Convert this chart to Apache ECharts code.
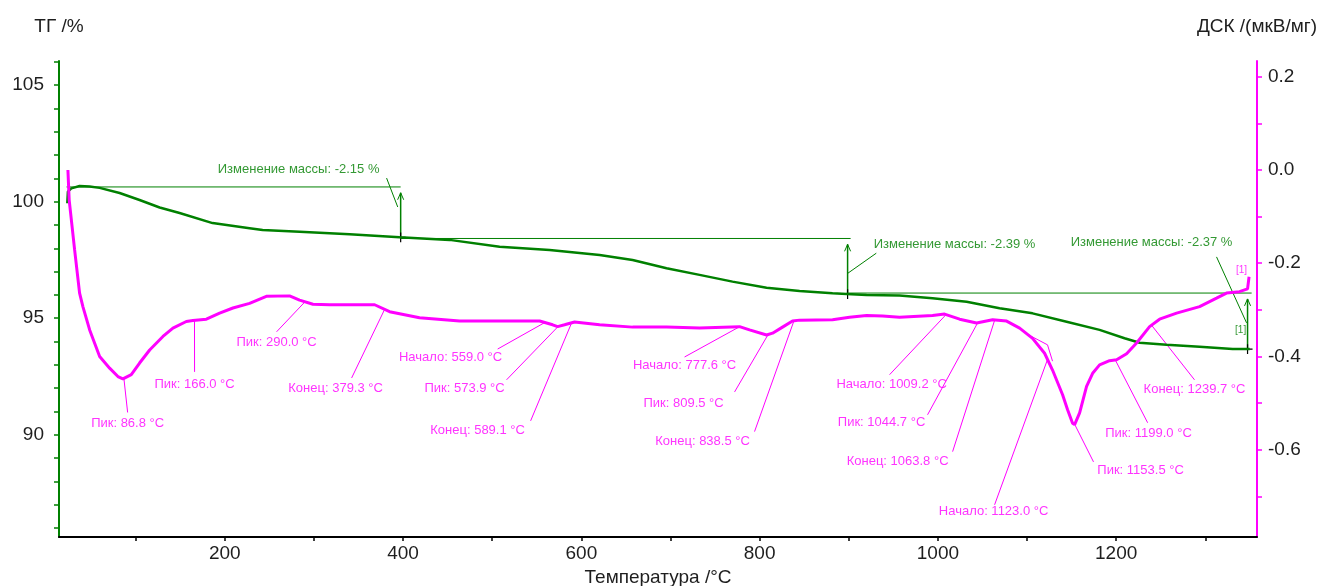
<!DOCTYPE html>
<html>
<head>
<meta charset="utf-8">
<title>ТГ / ДСК</title>
<script src="https://cdn.jsdelivr.net/npm/echarts@6/dist/echarts.min.js"></script>
<style>
  html, body { margin: 0; padding: 0; background: #fff; }
  #chart { width: 1322px; height: 586px; }
</style>
</head>
<body>
<div id="chart"></div>
<script>
// ТГ curve, mass %
const tgTemp = [
  23.3, 24.0, 27.8, 37.1, 48.4, 59.6, 82.0, 104.4, 126.9, 149.3,
  186.3, 227.8, 242.4, 283.9, 340.0, 396.1, 452.2, 508.3, 564.4, 620.5,
  657.5, 695.6, 732.6, 769.6, 807.8, 844.8, 881.8, 897.5, 920.0, 957.0,
  994.0, 1032.2, 1069.2, 1106.2, 1144.4, 1181.4, 1209.4, 1226.3, 1256.6, 1293.6,
  1330.7, 1349.8
]
const tgValue = [
  99.93, 100.43, 100.57, 100.67, 100.65, 100.59, 100.37, 100.07, 99.75, 99.51,
  99.08, 98.86, 98.78, 98.71, 98.60, 98.47, 98.36, 98.07, 97.93, 97.71,
  97.50, 97.14, 96.86, 96.57, 96.31, 96.17, 96.07, 96.04, 96.00, 95.98,
  95.86, 95.71, 95.43, 95.21, 94.85, 94.50, 94.14, 93.95, 93.86, 93.78,
  93.68, 93.68
]

// ДСК curve, мкВ/мг
const dscTemp = [
  24.0, 25.4, 27.0, 31.5, 37.1, 40.8, 48.4, 59.6, 70.8, 80.1,
  85.7, 95.1, 104.4, 115.7, 130.6, 141.8, 156.8, 164.2, 179.3, 194.2,
  209.1, 227.8, 246.6, 272.7, 283.9, 298.9, 317.6, 368.1, 384.9, 418.5,
  463.4, 508.3, 553.2, 567.8, 573.4, 581.2, 592.4, 620.5, 657.5, 695.6,
  732.6, 777.5, 788.7, 807.8, 814.5, 825.7, 836.9, 844.8, 881.8, 900.9,
  920.0, 937.9, 957.0, 994.0, 1007.5, 1024.4, 1043.4, 1061.4, 1077.1, 1091.7,
  1106.2, 1119.7, 1128.6, 1139.9, 1145.5, 1151.1, 1153.4, 1159.0, 1166.8, 1173.6,
  1181.4, 1192.6, 1200.5, 1211.7, 1222.9, 1237.5, 1248.7, 1267.8, 1293.6, 1312.6,
  1323.8, 1338.4, 1347.4, 1349.1
]
const dscValue = [
  0.000, -0.064, -0.092, -0.171, -0.264, -0.293, -0.343, -0.400, -0.425, -0.443,
  -0.448, -0.439, -0.414, -0.386, -0.357, -0.339, -0.325, -0.323, -0.320, -0.307,
  -0.296, -0.286, -0.271, -0.270, -0.279, -0.288, -0.289, -0.289, -0.304, -0.317,
  -0.324, -0.324, -0.324, -0.332, -0.336, -0.332, -0.326, -0.332, -0.337, -0.337,
  -0.339, -0.336, -0.343, -0.354, -0.350, -0.337, -0.324, -0.322, -0.321, -0.316,
  -0.312, -0.313, -0.316, -0.312, -0.309, -0.320, -0.328, -0.321, -0.324, -0.339,
  -0.361, -0.393, -0.429, -0.482, -0.514, -0.543, -0.546, -0.521, -0.464, -0.436,
  -0.418, -0.409, -0.407, -0.394, -0.371, -0.336, -0.320, -0.307, -0.293, -0.275,
  -0.264, -0.261, -0.255, -0.229
]

// ДСК events
const eventKind = [
  'Пик', 'Пик', 'Пик', 'Конец', 'Начало', 'Пик', 'Конец', 'Начало', 'Пик',
  'Конец', 'Начало', 'Пик', 'Конец', 'Начало', 'Пик', 'Пик', 'Конец'
]
const eventTemp = [
  86.8, 166.0, 290.0, 379.3, 559.0, 573.9, 589.1, 777.6, 809.5,
  838.5, 1009.2, 1044.7, 1063.8, 1123.0, 1153.5, 1199.0, 1239.7
]

// mass change steps
const massChange = [-2.15, -2.39, -2.37]
const stepTemp = [397.3, 898.7, 1347.4]
const stepLevel = [100.63, 98.42, 96.08]

// axis ticks / labels
const xTicks = [100, 200, 300, 400, 500, 600, 700, 800, 900, 1000, 1100, 1200, 1300]
const xLabels = [200, 400, 600, 800, 1000, 1200]
const tgTicks = [86, 87, 88, 89, 90, 91, 92, 93, 94, 95, 96, 97, 98, 99, 100, 101, 102, 103, 104, 105, 106]
const tgLabels = [90, 95, 100, 105]
const dscTicks = [-0.7, -0.6, -0.5, -0.4, -0.3, -0.2, -0.1, 0, 0.1, 0.2]
const dscLabels = [-0.6, -0.4, -0.2, 0, 0.2]

// where the annotation texts sit: [leader end T, leader end y, text T, text y]
const eventLayout = [
  [91.0, -0.520, 91.0, -0.544],
  [166.1, -0.433, 166.1, -0.459],
  [258.1, -0.347, 258.1, -0.369],
  [342.3, -0.446, 324.3, -0.469],
  [506.1, -0.384, 453.3, -0.401],
  [516.1, -0.450, 469.0, -0.469],
  [543.1, -0.538, 483.6, -0.559],
  [715.8, -0.401, 715.8, -0.420],
  [771.9, -0.476, 714.7, -0.501],
  [794.3, -0.561, 736.0, -0.583],
  [945.8, -0.439, 948.1, -0.459],
  [988.4, -0.525, 936.8, -0.542],
  [1016.5, -0.604, 954.8, -0.624],
  [1063.6, -0.718, 1062.5, -0.733],
  [1174.6, -0.626, 1227.4, -0.645],
  [1235.3, -0.542, 1236.3, -0.564],
  [1287.9, -0.450, 1287.9, -0.471]
]
const stepLineFrom = [22.5, 397.3, 897.5]
const stepLineTo = [397.3, 902.1, 1352]
const stepText = [[282.8, 101.36], [1018.7, 98.18], [1239.7, 98.23]]
const stepLeader = [
  [[381.5, 101.01], [394.0, 99.77]],
  [[930.9, 97.79], [899.0, 96.93]],
  [[1312.6, 97.63], [1346.3, 94.80]]
]

const FONT = "'Liberation Sans', Arial, sans-serif"
const PINK = '#ff00ff'
const GREEN = '#008000'
const INK = '#1e1e1e'

function interp(xs, ys, t) {
  for (let i = 1; i < xs.length; i++) {
    if (t <= xs[i]) {
      const k = (t - xs[i - 1]) / (xs[i] - xs[i - 1])
      return ys[i - 1] + k * (ys[i] - ys[i - 1])
    }
  }
  return ys[ys.length - 1]
}

function seg(points, yAxisIndex, color, width) {
  return {
    type: 'line', yAxisIndex, data: points, symbol: 'none', silent: true,
    animation: false, lineStyle: { color, width: width || 1 }, z: 3
  }
}

function text(pos, str, yAxisIndex, color, size) {
  return {
    type: 'scatter', yAxisIndex, data: [pos], symbolSize: 0, silent: true, animation: false,
    label: { show: true, position: 'inside', formatter: str, color, fontSize: size || 13, fontFamily: FONT },
    z: 4
  }
}

const series = [
  {
    type: 'line', yAxisIndex: 0, symbol: 'none', animation: false, z: 5,
    data: tgTemp.map((t, i) => [t, tgValue[i]]),
    lineStyle: { color: GREEN, width: 2.5 }
  },
  {
    type: 'line', yAxisIndex: 1, symbol: 'none', animation: false, z: 6,
    data: dscTemp.map((t, i) => [t, dscValue[i]]),
    lineStyle: { color: PINK, width: 3 }
  }
]

// DSC event leaders and labels
eventTemp.forEach((t, i) => {
  const l = eventLayout[i]
  series.push(seg([[t, interp(dscTemp, dscValue, t)], [l[0], l[1]]], 1, PINK, 1))
  series.push(text([l[2], l[3]], eventKind[i] + ': ' + t.toFixed(1) + ' °C', 1, PINK))
})
// onset tangent for 1123.0
series.push(seg([[1097.3, -0.349], [1123.0, -0.375], [1128.6, -0.41]], 1, PINK, 1))

// mass change steps
stepTemp.forEach((t, i) => {
  const bottom = interp(tgTemp, tgValue, t)
  const tip = stepLevel[i] - 0.25
  series.push(seg([[stepLineFrom[i], stepLevel[i]], [stepLineTo[i], stepLevel[i]]], 0, GREEN, 1))
  series.push(seg([[t, bottom], [t, tip]], 0, GREEN, 1.5))
  series.push(seg([[t - 3.4, tip - 0.3], [t, tip], [t + 3.4, tip - 0.3]], 0, GREEN, 1))
  series.push(seg(stepLeader[i], 0, GREEN, 1))
  series.push(seg([[t - 5.6, bottom], [t + 5.6, bottom]], 0, '#000', 1.2))
  series.push(seg([[t, bottom - 0.21], [t, bottom + 0.21]], 0, '#000', 1.2))
  series.push(text(stepText[i], 'Изменение массы: ' + massChange[i].toFixed(2) + ' %', 0, GREEN))
})
series.push(text([1339.6, 94.50], '[1]', 0, GREEN, 10))
series.push(text([1340.7, -0.214], '[1]', 1, PINK, 10))

const chart = echarts.init(document.getElementById('chart'))
chart.setOption({
  backgroundColor: '#fff',
  animation: false,
  grid: { left: 59, right: 65, top: 61, bottom: 49, outerBoundsMode: 'none' },
  xAxis: {
    type: 'value', min: 14, max: 1358,
    axisLine: { show: true, onZero: false, lineStyle: { color: '#000', width: 2 } },
    axisTick: { show: true, customValues: xTicks, length: 4, lineStyle: { color: '#000', width: 1.5 } },
    axisLabel: {
      customValues: xLabels, fontSize: 19, color: INK, margin: 7, fontFamily: FONT,
      formatter: v => String(v)
    },
    splitLine: { show: false },
    name: 'Температура /°C', nameLocation: 'middle', nameGap: 29,
    nameTextStyle: { fontSize: 19, color: INK, fontFamily: FONT }
  },
  yAxis: [
    {
      type: 'value', position: 'left', min: 85.62, max: 106.03,
      axisLine: { show: true, onZero: false, lineStyle: { color: GREEN, width: 2 } },
      axisTick: { show: true, customValues: tgTicks, length: 5, lineStyle: { color: GREEN, width: 1.5 } },
      axisLabel: { customValues: tgLabels, fontSize: 19, color: INK, margin: 15, fontFamily: FONT },
      splitLine: { show: false },
      name: 'ТГ /%', nameLocation: 'end', nameGap: 25,
      nameTextStyle: { fontSize: 19, color: INK, fontFamily: FONT }
    },
    {
      type: 'value', position: 'right', min: -0.787, max: 0.2336,
      axisLine: { show: true, onZero: false, lineStyle: { color: PINK, width: 2 } },
      axisTick: { show: true, customValues: dscTicks, length: 5, lineStyle: { color: PINK, width: 1.5 } },
      axisLabel: {
        customValues: dscLabels, fontSize: 19, color: INK, margin: 11, fontFamily: FONT,
        formatter: v => v.toFixed(1)
      },
      splitLine: { show: false },
      name: 'ДСК /(мкВ/мг)', nameLocation: 'end', nameGap: 25,
      nameTextStyle: { fontSize: 19, color: INK, fontFamily: FONT }
    }
  ],
  series
})
</script>
</body>
</html>
